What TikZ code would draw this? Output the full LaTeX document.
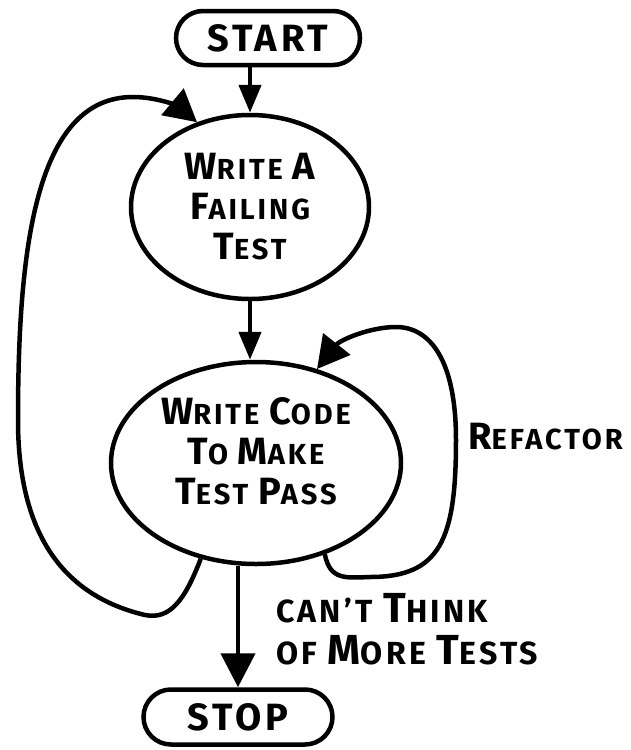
\documentclass[tikz,border=0pt]{standalone}
\usepackage{fontspec}
\setmainfont{Fira Sans}[LetterSpace=10]
\usetikzlibrary{arrows.meta, shapes.geometric, shapes.misc}
\newcommand{\bigc}[1]{{\fontsize{38}{40}\selectfont #1}}

\begin{document}
\begin{tikzpicture}[
    x=1pt, y=-1pt,
    % GLOBAL CFG
    font=\fontsize{29}{40}\selectfont\bfseries,
    line width=4.5pt,
    % Styles
    term/.style={% START and STOP
        rounded rectangle,
        draw,
        inner sep=0pt,
        font=\fontsize{38}{40}\selectfont\bfseries,
        },
    bubble/.style={% the two round steps
        ellipse,
        draw,
        inner sep=0pt,
        align=center,
        },
    mylabel/.style={% texts beside the arrows
        align=left,
        anchor=west,
        inner sep=0pt,
        },
    ArrowS/.style={% short straight arrows
        -{Triangle[length=28pt,width=22pt]},
        },
    ArrowB/.style={% big arrow down to STOP
        -{Triangle[length=34pt,width=34pt]},
        },
    ArrowL/.style={% the loops back
        -{Triangle[length=32pt,width=34pt]},
        },
    ]
    \useasboundingbox (0,0) rectangle (630,750);

    % Draw the terminals
    \node [term, minimum width=184pt, minimum height=54pt] (start) at (268,38) {START};
    \node [term, minimum width=189pt, minimum height=55pt] (stop) at (238,717) {STOP};

    % Draw the two steps
    \node [bubble, minimum width=238pt, minimum height=184pt] (fail) at (250,207)
        {\bigc{W}RITE \bigc{A}\\\bigc{F}AILING\\\bigc{T}EST};
    \node [bubble, minimum width=290pt, minimum height=202pt] (pass) at (256,463)
        {\bigc{W}RITE \bigc{C}ODE\\\bigc{T}O \bigc{M}AKE\\\bigc{T}EST \bigc{P}ASS\\[-16pt]{}};

    % Labels
    \node [mylabel] (refactor) at (466,437) {\bigc{R}EFACTOR};
    \node [mylabel, font=\fontsize{32}{42}\selectfont\bfseries] (cant) at (274,629)
        {CAN'T {\fontsize{42}{42}\selectfont T}HINK\\OF {\fontsize{42}{42}\selectfont M}ORE {\fontsize{42}{42}\selectfont T}ESTS};

    % Straight arrows
    \draw [ArrowS] (start.south -| fail.north) -- (fail.north);
    \draw [ArrowS] (fail.south) -- (fail.south |- pass.north);
    \draw [ArrowB] (pass.south -| stop.north) -- (stop.north);

    % Loops
    \draw [ArrowL] (pass.240) .. controls (185,600) and (170,620) .. (145,615)
        .. controls (60,595) and (18,530) .. (18,420)
        .. controls (18,250) and (35,97) .. (133,97)
        .. controls (160,97) and (180,108) .. (fail.122);
    \draw [ArrowL] (pass.-53) .. controls (330,580) and (345,578) .. (370,577)
        .. controls (440,577) and (456,540) .. (456,440)
        .. controls (456,360) and (430,327) .. (396,327)
        .. controls (370,327) and (340,340) .. (pass.57);

\end{tikzpicture}
\end{document}
